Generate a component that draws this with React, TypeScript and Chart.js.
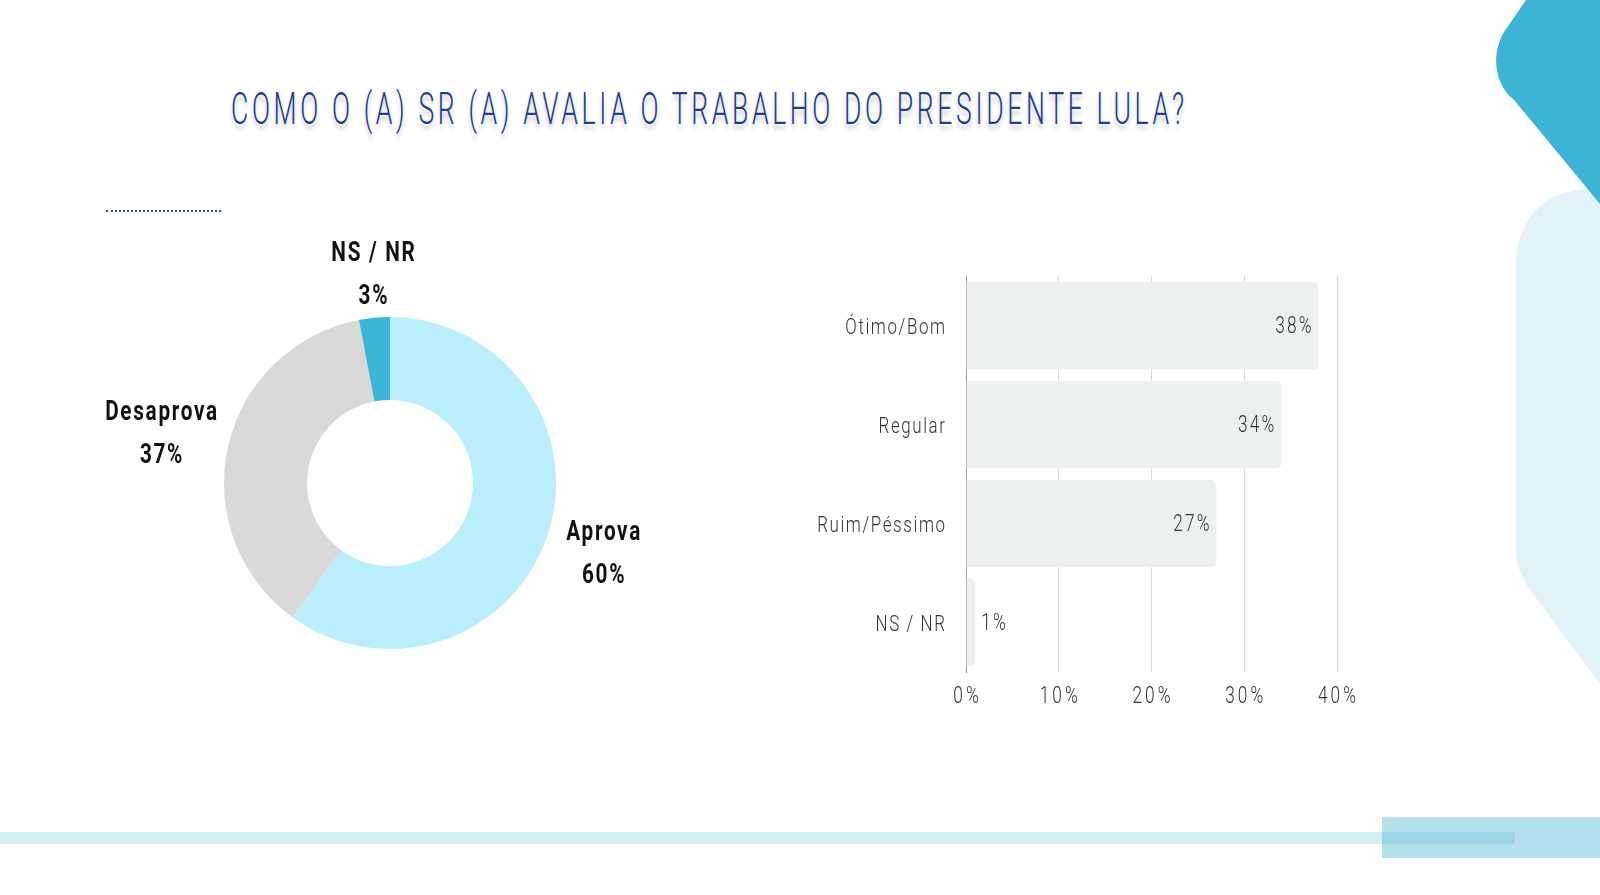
import React, { useEffect, useLayoutEffect, useRef } from "react";
import { Chart, registerables } from "chart.js";

Chart.register(...registerables);

const TITLE = "COMO O (A) SR (A) AVALIA O TRABALHO DO PRESIDENTE LULA?";

const donutLabels = ["Aprova", "Desaprova", "NS / NR"];
const donutValues = [60, 37, 3];
const donutColors = ["#bbeefc", "#d9d9d9", "#3db5d7"];

const barLabels = ["Ótimo/Bom", "Regular", "Ruim/Péssimo", "NS / NR"];
const barValues = [38, 34, 27, 1];
const xTickMin = 0;
const xTickMax = 40;
const xTickStep = 10;

const FONT = "Roboto, 'Noto Sans', sans-serif";

function drawCondensed(
  ctx: any,
  text: string,
  x: number,
  y: number,
  align: "left" | "right" | "center",
  sx: number,
  ls: number
) {
  ctx.save();
  let dx = 0;
  if (align === "right") dx = ls;
  if (align === "center") dx = ls / 2;
  ctx.translate(x + dx, y);
  ctx.scale(sx, 1);
  ctx.letterSpacing = `${ls / sx}px`;
  ctx.textAlign = align;
  ctx.fillText(text, 0, 0);
  ctx.restore();
}

const donutLabelPlugin = {
  id: "donutLabels",
  afterDatasetsDraw(chart: any) {
    const ctx = chart.ctx;
    const meta = chart.getDatasetMeta(0);
    const ds = chart.data.datasets[0];
    const sx = 0.74;
    const ls = 1.7;
    ctx.save();
    ctx.font = `700 28px ${FONT}`;
    ctx.fillStyle = "#111";
    ctx.textBaseline = "middle";
    meta.data.forEach((arc: any, i: number) => {
      const p = arc.getProps(["x", "y", "startAngle", "endAngle", "outerRadius"], true);
      const mid = (p.startAngle + p.endAngle) / 2;
      const c = Math.cos(mid);
      const s = Math.sin(mid);
      const l1 = String(chart.data.labels[i]);
      const l2 = `${ds.data[i]}%`;
      const w1 = ctx.measureText(l1).width * sx + ls * (l1.length - 1);
      const w2 = ctx.measureText(l2).width * sx + ls * (l2.length - 1);
      const halfW = Math.max(w1, w2) / 2;
      const halfH = 32;
      const d = p.outerRadius + 10 + Math.abs(c) * halfW + Math.abs(s) * halfH;
      const cx = p.x + c * d + 3;
      const cy = p.y + s * d + 3;
      drawCondensed(ctx, l1, cx, cy - 21.5, "center", sx, ls);
      drawCondensed(ctx, l2, cx, cy + 21.5, "center", sx, ls);
    });
    ctx.restore();
  },
};

const barLabelPlugin = {
  id: "barLabels",
  afterDatasetsDraw(chart: any) {
    const ctx = chart.ctx;
    const meta = chart.getDatasetMeta(0);
    const data = chart.data.datasets[0].data;
    const sx = 0.75;
    ctx.save();
    ctx.font = `300 23px ${FONT}`;
    ctx.fillStyle = "#333";
    ctx.textBaseline = "middle";
    meta.data.forEach((bar: any, i: number) => {
      const v = data[i];
      const { x, y } = bar.getProps(["x", "y"], true);
      if (v >= 5) {
        drawCondensed(ctx, `${v}%`, x - 7, y + 2, "right", sx, 2.2);
      } else {
        drawCondensed(ctx, `${v}%`, x + 6, y + 2, "left", sx, 2.2);
      }
    });
    ctx.restore();
  },
  afterDraw(chart: any) {
    const ctx = chart.ctx;
    const ys = chart.scales.y;
    const xs = chart.scales.x;
    ctx.save();
    ctx.fillStyle = "#333";
    ctx.textBaseline = "middle";
    ctx.font = `300 22px ${FONT}`;
    chart.data.labels.forEach((lab: string, i: number) => {
      const y = ys.getPixelForTick(i);
      drawCondensed(ctx, String(lab), ys.right - 21, y + 3, "right", 0.77, 1.6);
    });
    ctx.font = `300 23px ${FONT}`;
    xs.ticks.forEach((t: any, i: number) => {
      const x = xs.getPixelForTick(i);
      drawCondensed(ctx, `${t.value}%`, x, chart.chartArea.bottom + 25, "center", 0.75, 3);
    });
    ctx.restore();
  },
};

export default function App() {
  const donutRef = useRef<HTMLCanvasElement>(null);
  const barRef = useRef<HTMLCanvasElement>(null);
  const titleRef = useRef<HTMLDivElement>(null);

  useLayoutEffect(() => {
    const el = titleRef.current;
    if (!el) return;
    el.style.transform = "none";
    const w = el.getBoundingClientRect().width - 6;
    el.style.transform = `scaleX(${953 / w})`;
  }, []);

  useEffect(() => {
    const donut = new Chart(donutRef.current as HTMLCanvasElement, {
      type: "doughnut",
      data: {
        labels: donutLabels,
        datasets: [
          {
            data: donutValues,
            backgroundColor: donutColors,
            borderWidth: 0,
            hoverOffset: 0,
          },
        ],
      },
      options: {
        responsive: false,
        animation: false,
        radius: 166,
        cutout: "50%",
        plugins: { legend: { display: false }, tooltip: { enabled: false } },
      } as any,
      plugins: [donutLabelPlugin],
    });

    const bar = new Chart(barRef.current as HTMLCanvasElement, {
      type: "bar",
      data: {
        labels: barLabels,
        datasets: [
          {
            data: barValues,
            backgroundColor: "#edf0f1",
            borderRadius: 5,
            barPercentage: 0.885,
            categoryPercentage: 1,
          },
        ],
      },
      options: {
        indexAxis: "y",
        responsive: false,
        animation: false,
        layout: { padding: { top: 26, right: 43, left: 0, bottom: 0 } },
        plugins: { legend: { display: false }, tooltip: { enabled: false } },
        scales: {
          x: {
            min: xTickMin,
            max: xTickMax,
            grid: { color: "#d9d9d9", drawTicks: false, lineWidth: 1 },
            border: { display: false },
            ticks: { stepSize: xTickStep, display: false },
            afterFit: (s: any) => {
              s.height = 58;
            },
          },
          y: {
            grid: { display: false, drawTicks: false },
            border: { display: true, color: "#999" },
            ticks: { display: false },
            afterFit: (s: any) => {
              s.width = 186;
            },
          },
        },
      } as any,
      plugins: [barLabelPlugin],
    });

    return () => {
      donut.destroy();
      bar.destroy();
    };
  }, []);

  return (
    <div
      style={{
        position: "absolute",
        left: 0,
        top: 0,
        width: 1600,
        height: 895,
        overflow: "hidden",
        background: "#ffffff",
      }}
    >
      <svg
        width={1600}
        height={895}
        style={{ position: "absolute", left: 0, top: 0 }}
      >
        <path
          d="M 1600 189 L 1590 189 C 1545 189 1516 220 1516 265 L 1516 548 C 1516 566 1522 580 1534 595 L 1600 684 Z"
          fill="#e1f3f8"
        />
        <path
          d="M 1526 0 L 1504 32 C 1491 54 1494 84 1514 100 L 1600 204 L 1600 0 Z"
          fill="#3db4d6"
        />
        <rect x={1382} y={817} width={218} height={41} fill="#b2e0ec" />
        <rect x={0} y={832} width={1382} height={12} fill="#d8eef5" />
        <rect x={1382} y={832} width={133} height={12} fill="#9bd4e5" />
      </svg>

      <div
        ref={titleRef}
        style={{
          position: "absolute",
          left: 231,
          top: 87,
          whiteSpace: "nowrap",
          fontFamily: "Roboto, 'Noto Sans', sans-serif",
          fontWeight: 300,
          fontSize: 44,
          lineHeight: "44px",
          letterSpacing: "6px",
          color: "#1f3d92",
          textShadow: "0 5px 6px rgba(0,0,0,0.22)",
          transformOrigin: "0 0",
        }}
      >
        {TITLE}
      </div>

      <div
        style={{
          position: "absolute",
          left: 106,
          top: 210,
          width: 115,
          height: 0,
          borderTop: "2px dotted #2d4b9b",
        }}
      />

      <canvas
        ref={donutRef}
        width={640}
        height={540}
        style={{ position: "absolute", left: 70, top: 213, width: 640, height: 540 }}
      />
      <canvas
        ref={barRef}
        width={600}
        height={480}
        style={{ position: "absolute", left: 780, top: 250, width: 600, height: 480 }}
      />
    </div>
  );
}
